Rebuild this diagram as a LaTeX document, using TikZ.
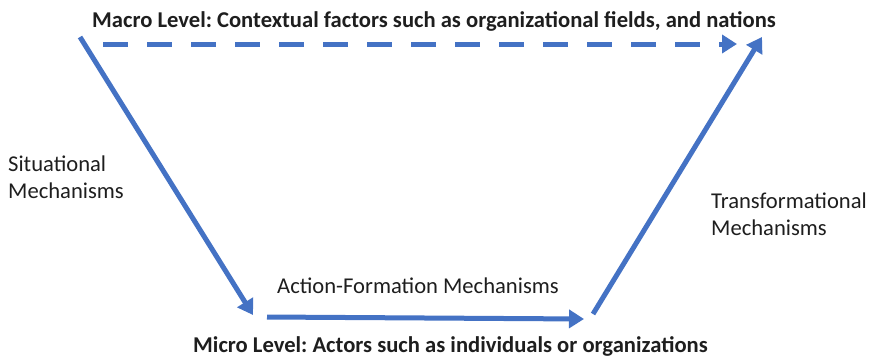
\documentclass[tikz,border=0pt]{standalone}
\usepackage{fontspec}
\setmainfont{Carlito}
\usetikzlibrary{arrows.meta}
\definecolor{arrblue}{HTML}{4472C4}
\definecolor{txt}{HTML}{1E1E1E}
\frenchspacing
\tikzset{
  flow/.style={draw=arrblue, line width=5pt, -{Triangle[length=15pt,width=18pt]}},
  dflow/.style={flow, dash pattern=on 25pt off 19pt},
  lbl/.style={text=txt, inner sep=0pt, font=\fontsize{22.6}{27}\selectfont, align=left, anchor=base west},
  head/.style={text=txt, inner sep=0pt, font=\bfseries\fontsize{22.6}{27}\selectfont, anchor=base west}
}
\begin{document}
\begin{tikzpicture}[x=1pt,y=-1pt]
\useasboundingbox (0,0) rectangle (869,359);
\node[head] (macro) at (92,27) {Macro Level: Contextual factors such as organizational fields, and nations};
\node[head] (micro) at (193,352) {Micro Level: Actors such as individuals or organizations};
\node[lbl] (sit) at (8,198) {Situational\\Mechanisms};
\node[lbl] (trans) at (711,235) {Transformational\\Mechanisms};
\node[lbl] (act) at (277,293) {Action-Formation Mechanisms};
\coordinate (s1) at (80,37);
\coordinate (s2) at (253,315);
\coordinate (d1) at (103,44);
\coordinate (d2) at (737,44);
\coordinate (m1) at (267,317);
\coordinate (m2) at (584,319);
\coordinate (t1) at (593,314);
\coordinate (t2) at (762,37);
\draw[flow] (s1) -- (s2);
\draw[dflow] (d1) -- (d2);
\draw[flow] (m1) -- (m2);
\draw[flow] (t1) -- (t2);
\end{tikzpicture}
\end{document}
